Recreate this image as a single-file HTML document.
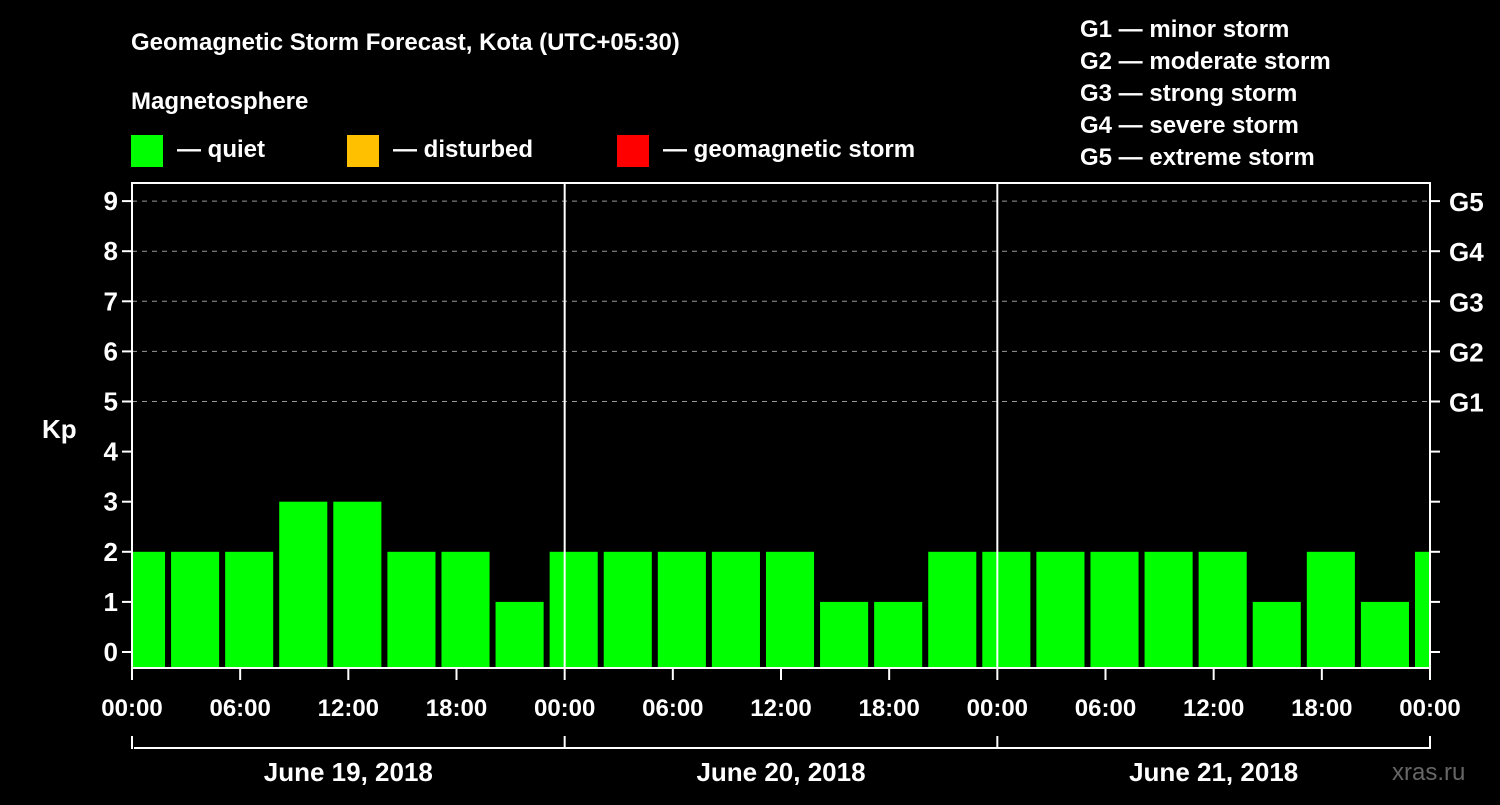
<!DOCTYPE html>
<html><head><meta charset="utf-8"><style>
body{margin:0;background:#000;width:1500px;height:800px;overflow:hidden;font-family:"Liberation Sans",Arial,sans-serif}
text{font-family:"Liberation Sans",Arial,sans-serif;font-weight:bold;fill:#fff}
</style></head><body>
<svg id="chart" width="1500" height="800" xmlns="http://www.w3.org/2000/svg">
<rect width="1500" height="800" fill="#000"/>
<text x="131" y="50" font-size="24">Geomagnetic Storm Forecast, Kota (UTC+05:30)</text>
<text x="131" y="109" font-size="24">Magnetosphere</text>
<g><rect x="131" y="135" width="32" height="32" fill="#00ff00"/><text x="177" y="157" font-size="24">— quiet</text></g>
<g><rect x="347" y="135" width="32" height="32" fill="#ffc000"/><text x="393" y="157" font-size="24">— disturbed</text></g>
<g><rect x="617" y="135" width="32" height="32" fill="#ff0000"/><text x="663" y="157" font-size="24">— geomagnetic storm</text></g>
<g font-size="24">
<text x="1080" y="37">G1 — minor storm</text>
<text x="1080" y="69">G2 — moderate storm</text>
<text x="1080" y="101">G3 — strong storm</text>
<text x="1080" y="133">G4 — severe storm</text>
<text x="1080" y="165">G5 — extreme storm</text>
</g>
<text x="42" y="438" font-size="26">Kp</text>
<text x="1392" y="780" font-size="24" fill="#555" style="fill:#666;font-weight:normal">xras.ru</text>
<g id="plot"></g>
</svg>
<script>
const kpValues=[2,2,2,3,3,2,2,1,2,2,2,2,2,1,1,2,2,2,2,2,2,1,2,1,2];
const yTicks=[0,1,2,3,4,5,6,7,8,9];
const gLabels=["G1","G2","G3","G4","G5"];
const gLevels=[5,6,7,8,9];
const timeLabels=["00:00","06:00","12:00","18:00","00:00","06:00","12:00","18:00","00:00","06:00","12:00","18:00","00:00"];
const dayLabels=["June 19, 2018","June 20, 2018","June 21, 2018"];
const NS="http://www.w3.org/2000/svg";
const X0=132,X1=1430,Y0=668,YT=183;
const hourW=(X1-X0)/72;
const x=h=>X0+h*hourW;
const y=v=>652-v*50.1;
const plot=document.getElementById('plot');
function mk(tag,attrs,parent){const e=document.createElementNS(NS,tag);for(const k in attrs)e.setAttribute(k,attrs[k]);(parent||plot).appendChild(e);return e;}
const clip=mk('clipPath',{id:'pc'});mk('rect',{x:X0,y:YT,width:X1-X0,height:Y0-YT},clip);
// grid
gLevels.forEach(v=>{const l=mk('line',{x1:X0,x2:X1,y1:y(v),y2:y(v),stroke:'#999','stroke-dasharray':'5,5','stroke-width':1});

});
// bars
const bg=mk('g',{'clip-path':'url(#pc)'});
kpValues.forEach((v,i)=>{const h0=-1+3*i;const r=mk('rect',{x:x(h0)+3,y:y(v),width:3*hourW-6,height:Y0-y(v),fill:'#00ff00'},bg);

});
// frame
mk('rect',{x:X0,y:YT,width:X1-X0,height:Y0-YT,fill:'none',stroke:'#fff','stroke-width':2});
[24,48].forEach(h=>{const l=mk('line',{x1:x(h),x2:x(h),y1:YT,y2:Y0,stroke:'#fff','stroke-width':2});

});
// y ticks
yTicks.forEach(v=>{mk('line',{x1:X0-10,x2:X0,y1:y(v),y2:y(v),stroke:'#fff','stroke-width':2});
mk('line',{x1:X1,x2:X1+10,y1:y(v),y2:y(v),stroke:'#fff','stroke-width':2});
const t=mk('text',{x:X0-14,y:y(v)+9,'font-size':26,'text-anchor':'end'});t.textContent=v;

});
gLevels.forEach((v,i)=>{const t=mk('text',{x:1449,y:y(v)+10,'font-size':26});t.textContent=gLabels[i];

});
// x ticks
timeLabels.forEach((s,i)=>{const xx=x(i*6);mk('line',{x1:xx,x2:xx,y1:Y0,y2:Y0+12,stroke:'#fff','stroke-width':2});
const t=mk('text',{x:xx,y:716,'font-size':24,'text-anchor':'middle'});t.textContent=s;

});
// day bracket
mk('line',{x1:X0+2,x2:X1,y1:748,y2:748,stroke:'#fff','stroke-width':2});
[0,24,48,72].forEach(h=>mk('line',{x1:x(h),x2:x(h),y1:736,y2:749,stroke:'#fff','stroke-width':2}));
dayLabels.forEach((s,i)=>{const t=mk('text',{x:x(i*24+12),y:781,'font-size':26,'text-anchor':'middle'});t.textContent=s;

});
</script>
</body></html>
